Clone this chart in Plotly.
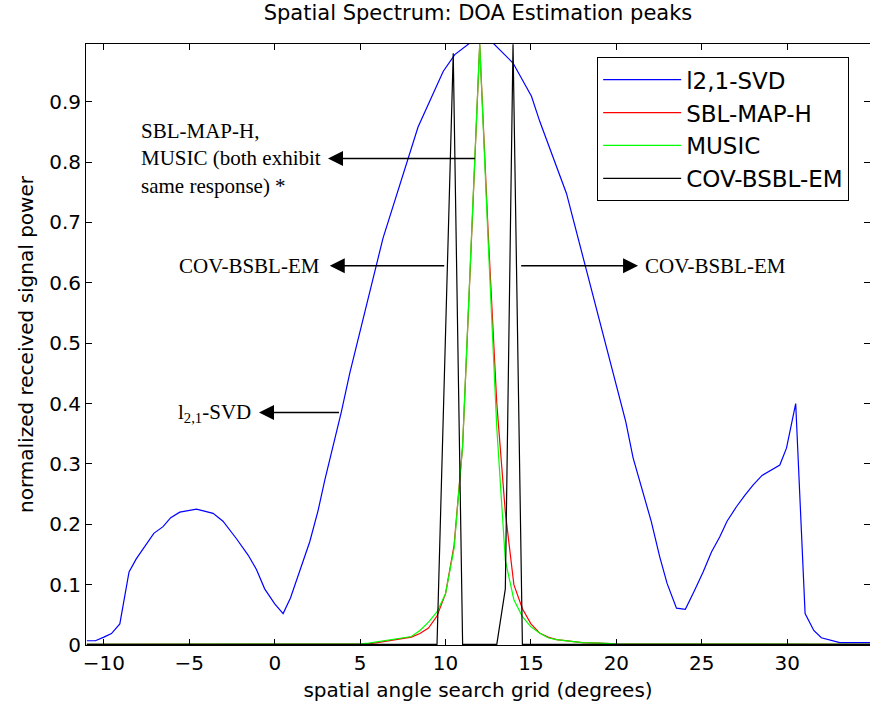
import plotly.graph_objects as go

# ---------------- data ----------------
svd_x = [-11, -10.5, -10, -9.56, -9.07, -8.53, -8.1, -7.08, -6.54, -6.09, -5.56, -4.58, -3.61,
         -3.03, -2.24, -1.56, -1.07, -0.59, 0.0, 0.49, 0.92, 1.46, 2.05, 2.54, 2.93, 3.9, 4.39,
         6.34, 8.39, 9.86, 10.54, 11.42, 12.0, 12.78, 13.95, 15.03, 15.52, 17.08, 18.44, 19.03,
         20.2, 20.55, 20.98, 21.56, 22.05, 22.54, 22.97, 23.52, 24.04, 24.59, 25.08, 25.57,
         26.05, 26.48, 27.03, 27.52, 28.0, 28.53, 29.57, 29.96, 30.5, 31.05, 31.56, 32.0, 32.5,
         33.08, 34.85]
svd_y = [0.007, 0.007, 0.013, 0.019, 0.035, 0.121, 0.143, 0.185, 0.196, 0.211, 0.220, 0.225, 0.218,
         0.205, 0.176, 0.149, 0.125, 0.093, 0.068, 0.052, 0.078, 0.121, 0.171, 0.223, 0.273, 0.386, 0.45,
         0.674, 0.858, 0.950, 0.978, 0.997, 1.0, 0.997, 0.964, 0.909, 0.867, 0.748, 0.599, 0.533,
         0.406, 0.37, 0.31, 0.254, 0.204, 0.146, 0.102, 0.061, 0.059, 0.091, 0.121, 0.154,
         0.179, 0.205, 0.229, 0.248, 0.265, 0.281, 0.298, 0.326, 0.400, 0.052, 0.024, 0.012, 0.008,
         0.004, 0.004]

sbl_x = [-11, 5, 5.5, 6, 6.5, 7, 7.5, 8, 8.5, 9, 9.5, 10, 10.5, 11, 11.5, 12, 12.5, 13, 13.5,
         14, 14.5, 15, 15.5, 16, 16.5, 17, 17.5, 18, 19, 20, 34.85]
sbl_y = [0.001, 0.001, 0.002, 0.004, 0.006, 0.008, 0.010, 0.013, 0.019, 0.028, 0.048, 0.085, 0.165,
         0.33, 0.66, 0.995, 0.68, 0.40, 0.22, 0.10, 0.06, 0.035, 0.02, 0.013, 0.009, 0.007, 0.005,
         0.004, 0.003, 0.002, 0.001]

music_x = [-11, 4.5, 5, 5.5, 6, 6.5, 7, 7.5, 8, 8.5, 9, 9.5, 10, 10.5, 11, 11.5, 12, 12.5, 13,
           13.5, 14, 14.5, 15, 15.5, 16, 16.5, 17, 17.5, 18, 19, 20, 34.85]
music_y = [0.001, 0.001, 0.002, 0.003, 0.005, 0.007, 0.009, 0.011, 0.014, 0.024, 0.038, 0.055, 0.085,
           0.16, 0.33, 0.665, 0.995, 0.665, 0.36, 0.14, 0.075, 0.047, 0.03, 0.02, 0.012, 0.009,
           0.007, 0.005, 0.004, 0.003, 0.002, 0.001]

cov_x = [-11, 9.5, 10.45, 11.0, 13.0, 13.5, 13.95, 14.5, 34.85]
cov_y = [0.001, 0.001, 0.98, 0.001, 0.001, 0.093, 0.995, 0.001, 0.001]

names = ["l2,1-SVD", "SBL-MAP-H", "MUSIC", "COV-BSBL-EM"]
colors = ["#0000ff", "#ff0000", "#00ff00", "#000000"]

x_ticks = [-10, -5, 0, 5, 10, 15, 20, 25, 30]
y_ticks = [0, 0.1, 0.2, 0.3, 0.4, 0.5, 0.6, 0.7, 0.8, 0.9]
y_tick_text = ["0", "0.1", "0.2", "0.3", "0.4", "0.5", "0.6", "0.7", "0.8", "0.9"]

# annotation texts and arrow geometry (data coordinates)
ann_texts = ["SBL-MAP-H,<br>MUSIC (both exhibit<br>same response) *",
             "COV-BSBL-EM", "COV-BSBL-EM", "l<sub>2,1</sub>-SVD"]
ann_pos = [(-7.96, 0.806, "left"), (2.78, 0.628, "right"), (21.55, 0.628, "left"), (-1.28, 0.385, "right")]
arrows = [  # (tip_x, tip_y, tail_x, tail_y)
    (3.12, 0.806, 11.81, 0.806),
    (3.22, 0.628, 10.01, 0.628),
    (21.27, 0.628, 14.34, 0.628),
    (-0.92, 0.385, 3.85, 0.385),
]

# ---------------- figure ----------------
fig = go.Figure()
for xs, ys, nm, col in [(svd_x, svd_y, names[0], colors[0]),
                        (sbl_x, sbl_y, names[1], colors[1]),
                        (music_x, music_y, names[2], colors[2]),
                        (cov_x, cov_y, names[3], colors[3])]:
    fig.add_trace(go.Scatter(x=xs, y=ys, mode="lines", name=nm,
                             line=dict(color=col, width=1.2)))

annotations = []
for (tx, ty, tax, tay) in arrows:
    annotations.append(dict(x=tx, y=ty, ax=tax, ay=tay, xref="x", yref="y", axref="x", ayref="y",
                            text="", showarrow=True, arrowhead=2, arrowsize=2, arrowwidth=1.5,
                            arrowcolor="black", standoff=0))
for txt, (px, py, anc) in zip(ann_texts, ann_pos):
    annotations.append(dict(x=px, y=py, xref="x", yref="y", text=txt, showarrow=False,
                            xanchor=anc, yanchor="middle", align="left",
                            font=dict(family="Liberation Serif", size=21, color="black")))

axis_font = dict(family="DejaVu Sans", size=20, color="black")

fig.update_layout(
    width=870, height=712,
    margin=dict(l=86, r=0, t=44, b=67),
    paper_bgcolor="white", plot_bgcolor="white",
    title=dict(text="Spatial Spectrum: DOA Estimation peaks", x=0.5, xref="paper",
               y=1 - 13 / 712, yref="container", yanchor="middle", xanchor="center",
               font=dict(family="DejaVu Sans", size=21, color="black")),
    showlegend=True,
    legend=dict(x=0.652, y=0.978, xanchor="left", yanchor="top",
                bordercolor="black", borderwidth=1, bgcolor="white",
                font=dict(family="DejaVu Sans", size=23, color="black"),
                itemwidth=78, tracegroupgap=0),
    annotations=annotations,
    xaxis=dict(range=[-11.05, 34.85], tickvals=x_ticks, ticks="inside", ticklen=6,
               tickcolor="black", showline=True, linecolor="black", linewidth=1, mirror="ticks",
               showgrid=False, zeroline=False, tickfont=axis_font,
               title=dict(text="spatial angle search grid (degrees)", font=axis_font, standoff=8)),
    yaxis=dict(range=[0, 0.9955], tickvals=y_ticks, ticktext=y_tick_text, ticks="inside",
               ticklen=6, tickcolor="black", showline=True, linecolor="black", linewidth=1,
               mirror="ticks", showgrid=False, zeroline=False, tickfont=axis_font,
               title=dict(text="normalized received signal power", font=axis_font, standoff=10)),
)

fig.write_html("out.html")
